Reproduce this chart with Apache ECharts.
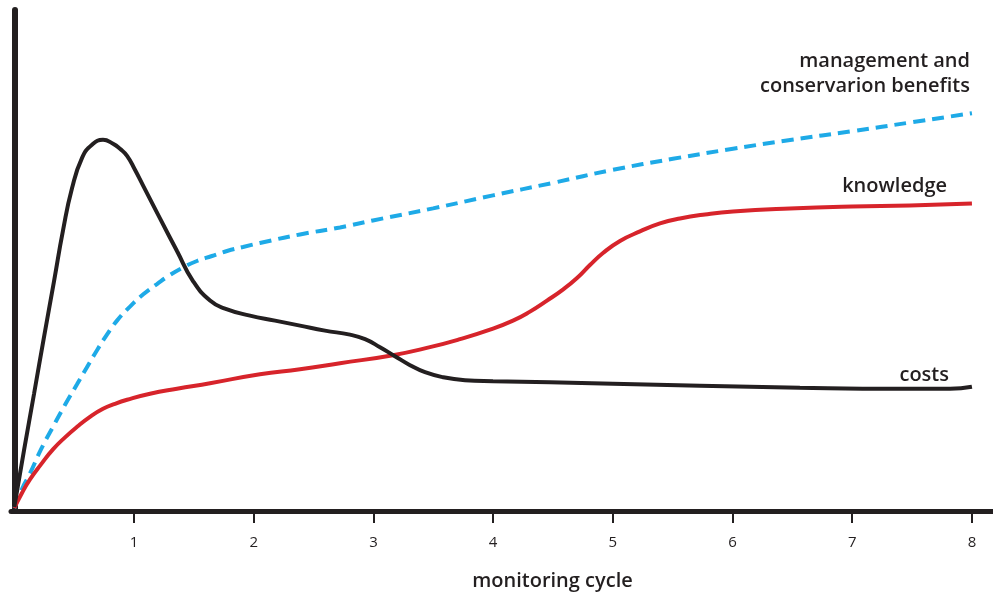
<!DOCTYPE html>
<html>
<head>
<meta charset="utf-8">
<script src="https://cdn.jsdelivr.net/npm/echarts@6/dist/echarts.min.js"></script>
<style>html,body{margin:0;padding:0;background:#fff}#c{width:993px;height:596px}</style>
</head>
<body>
<div id="c"></div>
<script>
// monitoring cycle (x) and relative level (y, 0-100)
const costs = [[0,0.8],[0.081,12.1],[0.165,23.4],[0.248,34.7],[0.332,45.9],[0.407,56.0],[0.482,64.4],[0.566,70.5],[0.649,73.1],[0.741,74.1],[0.825,73.3],[0.883,72.3],[0.942,70.9],[1.008,68.1],[1.075,65.0],[1.217,58.4],[1.359,51.9],[1.493,45.9],[1.635,42.0],[1.76,40.4],[1.969,39.0],[2.178,38.0],[2.387,37.0],[2.595,36.0],[2.804,35.2],[2.93,34.3],[3.055,32.7],[3.18,30.9],[3.306,29.1],[3.431,27.7],[3.581,26.7],[3.765,26.1],[3.999,25.9],[4.475,25.7],[5.001,25.4],[5.728,25.0],[6.563,24.6],[7.399,24.4],[7.817,24.4],[8.0,24.8]];
const knowledge = [[0,0.6],[0.064,3.6],[0.131,6.3],[0.223,9.3],[0.323,12.3],[0.424,14.7],[0.524,16.8],[0.632,18.8],[0.741,20.4],[0.841,21.4],[0.942,22.2],[1.134,23.4],[1.359,24.4],[1.635,25.5],[2.052,27.3],[2.387,28.3],[2.721,29.5],[3.163,31.1],[3.472,32.7],[3.723,34.3],[3.974,36.2],[4.166,38.0],[4.308,39.8],[4.45,42.0],[4.583,44.2],[4.701,46.5],[4.809,49.1],[4.918,51.5],[5.06,53.9],[5.227,55.8],[5.394,57.4],[5.561,58.4],[5.77,59.2],[6.004,59.8],[6.48,60.4],[6.998,60.8],[7.482,61.0],[8.0,61.4]];
const benefits = [[0,0.6],[0.064,4.4],[0.131,7.5],[0.223,12.3],[0.323,16.8],[0.424,21.2],[0.524,25.3],[0.607,28.7],[0.691,32.1],[0.774,35.2],[0.858,38.0],[0.966,40.8],[1.075,43.2],[1.192,45.3],[1.3,47.1],[1.417,48.7],[1.526,49.9],[1.651,50.9],[1.777,51.9],[1.911,52.7],[2.052,53.5],[2.387,55.2],[2.721,56.6],[2.996,58.0],[3.498,60.4],[3.999,63.0],[4.5,65.5],[5.001,68.1],[5.502,70.3],[6.004,72.3],[6.496,74.1],[6.998,75.8],[7.499,77.6],[8.0,79.4]];
const tickValues = [1,2,3,4,5,6,7,8];
const seriesNames = ['costs','knowledge','management and\nconservarion benefits'];
const xAxisName = 'monitoring cycle';

const ink = '#231f20';
const font = '"Open Sans", "Noto Sans", sans-serif';
const chart = echarts.init(document.getElementById('c'), null, {renderer:'canvas'});
chart.setOption({
  animation:false,
  backgroundColor:'#fff',
  grid:{left:11,right:0,top:10,bottom:81},
  xAxis:{
    type:'value', min:-0.0276, max:8.176,
    name:xAxisName, nameLocation:'middle', nameGap:60,
    nameTextStyle:{fontFamily:font,fontSize:20,fontWeight:600,color:ink,padding:[0,0,0,101]},
    axisLine:{onZero:false,lineStyle:{color:ink,width:5}},
    axisTick:{show:true,customValues:tickValues,length:12,lineStyle:{color:ink,width:2}},
    axisLabel:{customValues:tickValues,margin:24,fontFamily:font,fontSize:15,color:ink},
    splitLine:{show:false}
  },
  yAxis:{
    type:'value', min:0, max:100,
    axisLine:{show:true,lineStyle:{color:ink,width:6}},
    axisTick:{show:false},axisLabel:{show:false},splitLine:{show:false}
  },
  series:[
    {name:seriesNames[2],type:'line',data:benefits,smooth:0.5,symbol:'none',z:2,
     lineStyle:{color:'#1eaae7',width:4,type:[12,7]}},
    {name:seriesNames[1],type:'line',data:knowledge,smooth:0.5,symbol:'none',z:3,
     lineStyle:{color:'#d7242b',width:4}},
    {name:seriesNames[0],type:'line',data:costs,smooth:0.5,symbol:'none',z:4,
     lineStyle:{color:ink,width:4}}
  ],
  graphic:[
    {type:'text',right:23,top:49,style:{text:seriesNames[2],fill:ink,font:'600 20px '+font,textAlign:'right',lineHeight:25}},
    {type:'text',right:46,top:176,style:{text:seriesNames[1],fill:ink,font:'600 20px '+font}},
    {type:'text',right:44,top:365,style:{text:seriesNames[0],fill:ink,font:'600 20px '+font}}
  ]
});
</script>
</body>
</html>
